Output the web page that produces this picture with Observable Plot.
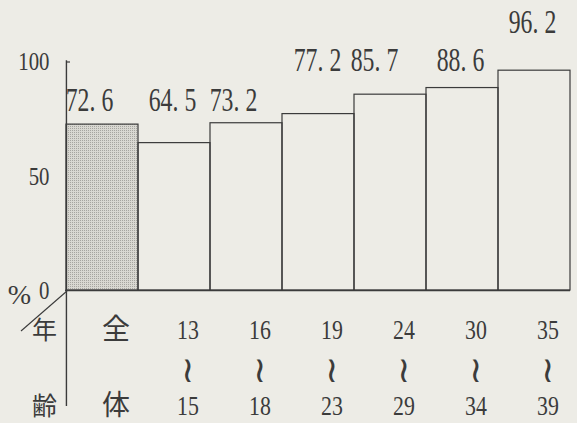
<!DOCTYPE html>
<html><head><meta charset="utf-8">
<script src="https://cdn.jsdelivr.net/npm/d3@7"></script>
<script src="https://cdn.jsdelivr.net/npm/@observablehq/plot@0.6"></script>
<style>
html,body{margin:0;padding:0;background:#edece6;overflow:hidden;}
</style></head><body><div id="chart"></div>
<script>
// ---- data ----
const categories = ["全体", "13〜15", "16〜18", "19〜23", "24〜29", "30〜34", "35〜39"];
const values = [72.6, 64.5, 73.2, 77.2, 85.7, 88.6, 96.2];
const yTicks = [0, 50, 100];

const data = categories.map((c, i) => ({cat: c, value: values[i]}));
const ink = "#3b3b3b";
const W = 577, H = 423;
const mL = 65, mR = 7, mT = 61.5, mB = 133;
const bw = (W - mL - mR) / categories.length;
const k = (H - mB - mT) / 100;           // px per unit
const py = px => (H - mB - px) / k;       // layout helper: pixel row -> y units

const upper = c => c === "全体" ? "全" : c.split("〜")[0];
const lower = c => c === "全体" ? "体" : c.split("〜")[1];
const wave = c => c === "全体" ? "" : "≀";
// staggered rows and offsets of the value labels, as printed
const labelRow = i => i < 3 ? py(100) : i < 6 ? py(60) : py(22);
const labelDx = [-13, -2, -13, -1, -16, -2, -2];
const catDx = 13.5;

const serif = "'Liberation Serif','Noto Sans CJK JP',serif";

const chart = Plot.plot({
  width: W, height: H,
  marginLeft: mL, marginRight: mR, marginTop: mT, marginBottom: mB,
  style: {background: "transparent", fontFamily: serif, color: ink},
  x: {domain: categories, padding: 0, axis: null},
  y: {domain: [0, 100], axis: null},
  marks: [
    Plot.barY(data, {filter: (d, i) => i === 0, x: "cat", y: "value", fill: "url(#dots)", stroke: ink, strokeWidth: 1.2}),
    Plot.barY(data, {filter: (d, i) => i > 0, x: "cat", y: "value", fill: "none", stroke: ink, strokeWidth: 1.2}),
    Plot.ruleY([0], {stroke: ink, strokeWidth: 1.4}),
    Plot.ruleX([categories[0]], {x: d => d, dx: -bw / 2, y1: 100.5, y2: py(406), stroke: ink, strokeWidth: 1.4}),
    Plot.axisY({ticks: yTicks, label: null, tickSize: 0, tickPadding: 16, fontSize: 26, fill: ink,
      fontFamily: serif, className: "narrow85"}),
    ...data.map((d, i) => Plot.text([d], {x: "cat", y: labelRow(i), text: d => d.value.toFixed(1).replace(".", ". "),
      dx: labelDx[i], fontSize: 33, fill: ink, fontFamily: serif, className: "narrow70"})),
    Plot.text(data, {x: "cat", y: py(330), dx: catDx, text: d => upper(d.cat), fontSize: 28, fill: ink, fontFamily: serif, className: "narrowNum"}),
    Plot.text(data, {x: "cat", y: py(370), dx: catDx, text: d => wave(d.cat), fontSize: 36, fill: ink,
      fontFamily: "'DejaVu Serif',serif"}),
    Plot.text(data, {x: "cat", y: py(406), dx: catDx, text: d => lower(d.cat), fontSize: 28, fill: ink, fontFamily: serif, className: "narrowNum"}),
    Plot.text(["%"], {x: () => categories[0], y: 0, dx: -bw / 2 - 47, dy: 5, text: d => d, fontSize: 28, fill: ink, fontFamily: serif}),
    Plot.text(["年"], {x: () => categories[0], y: py(330), dx: -bw / 2 - 22, text: d => d, fontSize: 25, fill: ink, fontFamily: serif}),
    Plot.text(["齢"], {x: () => categories[0], y: py(406), dx: -bw / 2 - 22, text: d => d, fontSize: 25, fill: ink, fontFamily: serif})
  ]
});

const svg = d3.select(chart);
svg.insert("defs", ":first-child").html(
  `<pattern id="dots" width="2" height="2" patternUnits="userSpaceOnUse">
     <rect width="2" height="2" fill="#d9d8d2"/><rect width="1" height="1" fill="#a6a5a0"/>
   </pattern>`);

// condensed typewriter-like numerals: squeeze glyphs horizontally about their anchor
function squeeze(sel, s) {
  sel.each(function () {
    const t = this.getAttribute("transform") || "";
    this.setAttribute("transform", t + ` scale(${s},1)`);
  });
}
squeeze(svg.selectAll(".narrow70 text"), 0.72);
squeeze(svg.selectAll(".narrow85 text"), 0.8);
svg.selectAll(".narrowNum text").each(function () {
  if (/^\d+$/.test(this.textContent)) {
    const t = this.getAttribute("transform") || "";
    this.setAttribute("transform", t + " scale(0.78,1)");
  }
});

// diagonal stroke at the corner of the axes
const xs = chart.scale("x"), ys = chart.scale("y");
const left = xs.apply(categories[0]);
svg.append("line")
  .attr("x1", left + 1).attr("y1", ys.apply(0) + 1)
  .attr("x2", left - 45).attr("y2", ys.apply(py(331)))
  .attr("stroke", ink).attr("stroke-width", 1.1);
// short inward tick at the top of the axis
svg.append("line")
  .attr("x1", left).attr("y1", ys.apply(100) + 0.5)
  .attr("x2", left + 4).attr("y2", ys.apply(100) + 0.5)
  .attr("stroke", ink).attr("stroke-width", 1.2);

document.getElementById("chart").appendChild(chart);
</script>
</body></html>
